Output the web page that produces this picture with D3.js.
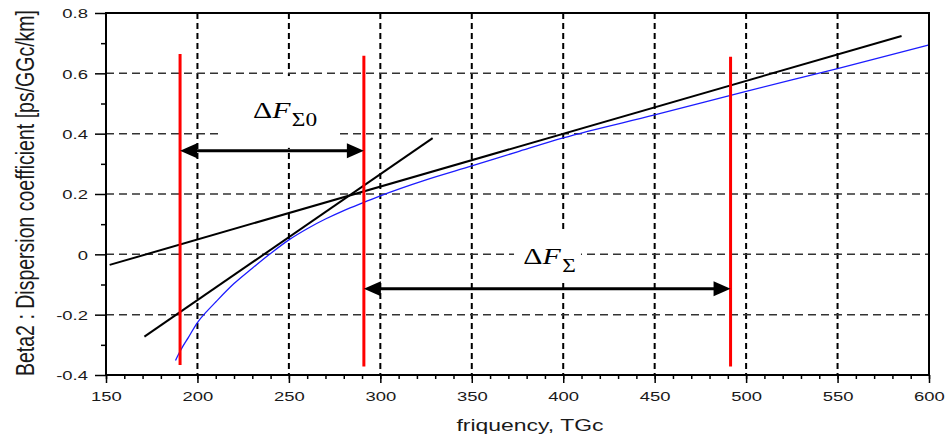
<!DOCTYPE html>
<html><head><meta charset="utf-8">
<script src="https://cdn.jsdelivr.net/npm/d3@7"></script>
<style>body{margin:0;background:#fff;overflow:hidden}</style>
</head><body>
<svg id="chart" width="950" height="437"></svg>
<script>
// ---- data ----
const xMajorTicks = [150, 200, 250, 300, 350, 400, 450, 500, 550, 600];
const yMajorTicks = [-0.4, -0.2, 0, 0.2, 0.4, 0.6, 0.8];
const yMinorTicks = [-0.3, -0.1, 0.1, 0.3, 0.5, 0.7];
const xGrid = [200, 250, 300, 350, 400, 450, 500, 550];
const yGrid = [-0.2, 0, 0.2, 0.4, 0.6];

const blueFreq = [188, 190, 192, 195, 200, 205, 210, 220, 230, 240, 250, 260, 270, 280, 290, 300, 325, 350, 375, 400, 450, 500, 550, 600];
const blueBeta = [-0.352, -0.327, -0.305, -0.276, -0.226, -0.19, -0.158, -0.097, -0.046, 0.003, 0.048, 0.085, 0.117, 0.145, 0.170, 0.194, 0.247, 0.293, 0.340, 0.386, 0.462, 0.540, 0.616, 0.694];

const tangentAFreq = [152, 585];
const tangentABeta = [-0.035, 0.724];
const tangentBFreq = [171, 328.6];
const tangentBBeta = [-0.273, 0.385];

const redFreq = [190.5, 291, 491.5];
const redTop = [0.664, 0.658, 0.655];
const redBottom = [-0.367, -0.372, -0.372];

const arrowFrom = [190.5, 291];
const arrowTo = [291, 491.5];
const arrowBeta = [0.343, -0.114];

const labelFreq = [230.4, 378.2];
const labelBeta = [0.451, -0.033];
const labelSub = ["Σ0", "Σ"];
const boxFreq0 = [213.4, 373.1];
const boxFreq1 = [277.9, 409.7];
const boxBeta0 = [0.353, -0.092];
const boxBeta1 = [0.591, 0.084];

const xTitle = "friquency, TGc";
const yTitle = "Beta2 : Dispersion coefficient [ps/GGc/km]";

// ---- layout ----
const W = 950, H = 437;
const m = {left: 106, top: 13, right: 21, bottom: 62};
const svg = d3.select("#chart");
const x = d3.scaleLinear().domain([150, 600]).range([m.left, W - m.right]);
const y = d3.scaleLinear().domain([-0.4, 0.8]).range([H - m.bottom, m.top]);
const SANS = "'Liberation Sans', Arial, sans-serif";
const SX = 1.42;

// grid
const g = svg.append("g");
g.selectAll(".vg").data(xGrid).join("line")
  .attr("x1", d => x(d)).attr("x2", d => x(d))
  .attr("y1", y(0.8)).attr("y2", y(-0.4))
  .attr("stroke", "#000").attr("stroke-width", 2).attr("stroke-dasharray", "6,4");
g.selectAll(".hg").data(yGrid).join("line")
  .attr("x1", x(150)).attr("x2", x(600))
  .attr("y1", d => y(d)).attr("y2", d => y(d))
  .attr("stroke", "#333").attr("stroke-width", 1.5).attr("stroke-dasharray", "8,5");

// label boxes (white background)
svg.append("g").selectAll("rect").data(boxFreq0).join("rect")
  .attr("x", (d, i) => x(d)).attr("width", (d, i) => x(boxFreq1[i]) - x(d))
  .attr("y", (d, i) => y(boxBeta1[i])).attr("height", (d, i) => y(boxBeta0[i]) - y(boxBeta1[i]))
  .attr("fill", "#fff");

// blue curve
const line = d3.line().x(d => x(d[0])).y(d => y(d[1]));
svg.append("path").datum(blueFreq.map((f, i) => [f, blueBeta[i]]))
  .attr("d", line.curve(d3.curveMonotoneX))
  .attr("fill", "none").attr("stroke", "#1c1cff").attr("stroke-width", 1.3);

// tangent lines
const straight = d3.line().x(d => x(d[0])).y(d => y(d[1]));
[[tangentAFreq, tangentABeta], [tangentBFreq, tangentBBeta]].forEach(([f, b]) => {
  svg.append("path").datum(f.map((v, i) => [v, b[i]]))
    .attr("d", straight).attr("fill", "none")
    .attr("stroke", "#000").attr("stroke-width", 2);
});

// red verticals
svg.append("g").selectAll("line").data(redFreq).join("line")
  .attr("x1", d => x(d)).attr("x2", d => x(d))
  .attr("y1", (d, i) => y(redTop[i])).attr("y2", (d, i) => y(redBottom[i]))
  .attr("stroke", "#ff0000").attr("stroke-width", 3);

// arrows
const HL = 17, HW = 7.5;
arrowFrom.forEach((f, i) => {
  const x1 = x(f), x2 = x(arrowTo[i]), yy = y(arrowBeta[i]);
  const ag = svg.append("g");
  ag.append("line").attr("x1", x1 + HL - 2).attr("x2", x2 - HL + 2)
    .attr("y1", yy).attr("y2", yy).attr("stroke", "#000").attr("stroke-width", 3);
  ag.append("path").attr("d", `M${x1},${yy} L${x1 + HL},${yy - HW} L${x1 + HL},${yy + HW} Z`).attr("fill", "#000");
  ag.append("path").attr("d", `M${x2},${yy} L${x2 - HL},${yy - HW} L${x2 - HL},${yy + HW} Z`).attr("fill", "#000");
});

// annotation labels
labelFreq.forEach((f, i) => {
  const t = svg.append("text")
    .attr("transform", `translate(${x(f)},${y(labelBeta[i])}) scale(1.3,1)`)
    .attr("font-family", "'Liberation Serif', 'Times New Roman', serif")
    .attr("font-size", 23).attr("fill", "#000");
  t.append("tspan").text("Δ");
  t.append("tspan").attr("font-style", "italic").text("F");
  t.append("tspan").attr("font-size", 18).attr("dy", 8).attr("dx", 1).text(labelSub[i]);
});

// frame
svg.append("rect").attr("x", x(150)).attr("y", y(0.8))
  .attr("width", x(600) - x(150)).attr("height", y(-0.4) - y(0.8))
  .attr("fill", "none").attr("stroke", "#000").attr("stroke-width", 2);

// axes
const fmt = d => d === 0 ? "0" : d.toFixed(1);
const ya = svg.append("g").attr("transform", `translate(${m.left},0)`)
  .call(d3.axisLeft(y).tickValues(yMajorTicks).tickSize(11).tickFormat(fmt));
ya.select(".domain").remove();
ya.selectAll("line").attr("stroke-width", 1.5);
ya.selectAll("text").attr("x", null).attr("dy", "0.36em")
  .attr("transform", `translate(-18,0) scale(${SX},1)`)
  .attr("font-family", SANS).attr("font-size", 13).attr("fill", "#1a1a1a");
const yam = svg.append("g").attr("transform", `translate(${m.left},0)`)
  .call(d3.axisLeft(y).tickValues(yMinorTicks).tickSize(5).tickFormat(""));
yam.select(".domain").remove();
yam.selectAll("line").attr("stroke-width", 1.5);

const xa = svg.append("g").attr("transform", `translate(0,${H - m.bottom})`)
  .call(d3.axisBottom(x).tickValues(xMajorTicks).tickSize(8));
xa.select(".domain").remove();
xa.selectAll("line").attr("stroke-width", 1.5);
xa.selectAll("text").attr("y", null).attr("dy", null)
  .attr("transform", `translate(0,26) scale(${SX},1)`)
  .attr("font-family", SANS).attr("font-size", 13).attr("fill", "#1a1a1a");
const xam = svg.append("g").attr("transform", `translate(0,${H - m.bottom})`)
  .call(d3.axisBottom(x).tickValues(d3.range(150, 601, 10)).tickSize(4).tickFormat(""));
xam.select(".domain").remove();
xam.selectAll("line").attr("stroke-width", 1.5);

// titles
svg.append("text")
  .attr("transform", `translate(530,431) scale(1.35,1)`)
  .attr("text-anchor", "middle").attr("font-family", SANS).attr("font-size", 17)
  .attr("fill", "#1a1a1a").text(xTitle);
svg.append("text")
  .attr("transform", `translate(25,193) scale(1.35,1) rotate(-90)`)
  .attr("text-anchor", "middle").attr("dominant-baseline", "central")
  .attr("font-family", SANS).attr("font-size", 19.5)
  .attr("textLength", 366).attr("lengthAdjust", "spacingAndGlyphs")
  .attr("fill", "#1a1a1a").text(yTitle);
</script>
</body></html>
